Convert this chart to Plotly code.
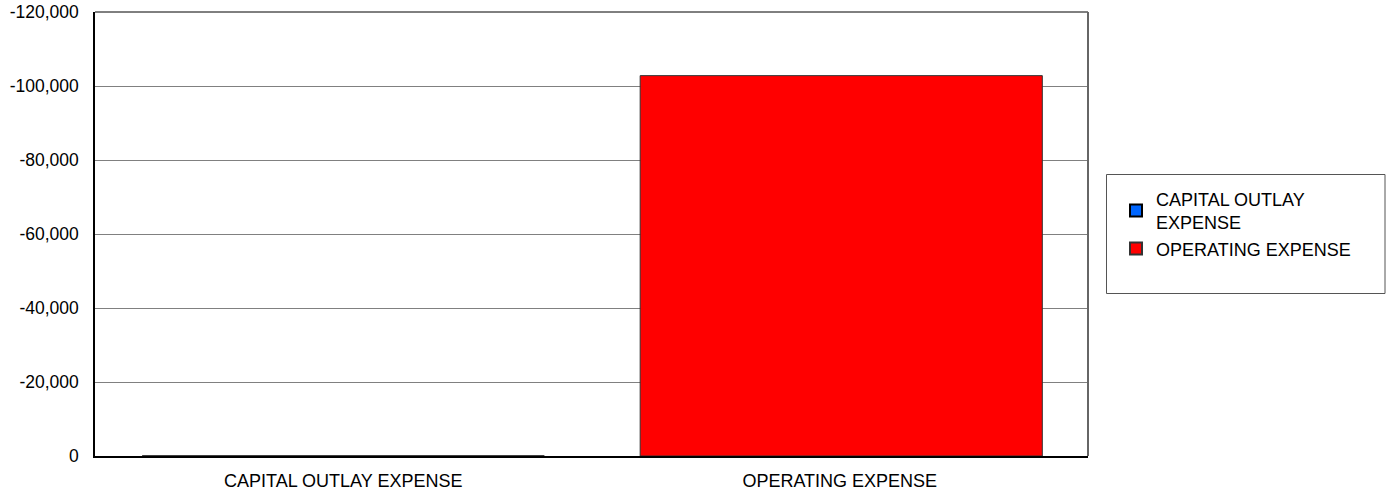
import plotly.graph_objects as go

categories = ["CAPITAL OUTLAY EXPENSE", "OPERATING EXPENSE"]
series_names = ["CAPITAL OUTLAY<br>EXPENSE", "OPERATING EXPENSE"]
capital_outlay = [0, None]
operating = [None, -102800]
tick_values = [0, -20000, -40000, -60000, -80000, -100000, -120000]
tick_labels = ["0", "-20,000", "-40,000", "-60,000", "-80,000", "-100,000", "-120,000"]

FONT = "Liberation Sans, Arial, sans-serif"
FS = 18

fig = go.Figure()
fig.add_trace(go.Bar(
    x=categories, y=capital_outlay, name=series_names[0],
    marker=dict(color="#0066FF", line=dict(color="#000000", width=1)),
    width=0.81, offset=-0.405,
))
fig.add_trace(go.Bar(
    x=categories, y=operating, name=series_names[1],
    marker=dict(color="#FF0000", line=dict(color="#333333", width=1)),
    width=0.81, offset=-0.402,
))

# legend frame
fig.add_shape(type="rect", xref="paper", yref="paper",
              x0=(1106.5 - 95) / 993, x1=(1385 - 95) / 993,
              y0=(456 - 293.5) / 444, y1=(456 - 174.5) / 444,
              line=dict(color="#555555", width=1), fillcolor="white", layer="below")

fig.update_layout(
    width=1390, height=494,
    margin=dict(l=95, r=302, t=12, b=38, autoexpand=False),
    paper_bgcolor="white", plot_bgcolor="white",
    barmode="overlay",
    font=dict(family=FONT, size=FS, color="#000000"),
    showlegend=True,
    legend=dict(x=(1116 - 95) / 993, y=(456 - 224) / 444, xanchor="left", yanchor="middle",
                bgcolor="rgba(0,0,0,0)", borderwidth=0,
                font=dict(family=FONT, size=FS, color="#000000"),
                tracegroupgap=5, itemsizing="constant"),
    xaxis=dict(showline=True, linecolor="#000000", linewidth=2, mirror=False,
               ticks="", tickfont=dict(size=FS), showgrid=False,
               automargin=False, ticklabelstandoff=7),
    yaxis=dict(range=[0, -120000], tickvals=tick_values, ticktext=tick_labels,
               showline=True, linecolor="#000000", linewidth=1.5, mirror=False,
               showgrid=True, gridcolor="#808080", gridwidth=1,
               zeroline=False, ticks="", tickfont=dict(size=17.5),
               automargin=False, ticklabelstandoff=11),
)

# top and right plot borders
fig.add_shape(type="line", xref="paper", yref="paper", x0=0, x1=1, y0=1, y1=1,
              line=dict(color="#000000", width=1))
fig.add_shape(type="line", xref="paper", yref="paper", x0=1, x1=1, y0=0, y1=1,
              line=dict(color="#666666", width=2))

fig.write_html("out.html")
